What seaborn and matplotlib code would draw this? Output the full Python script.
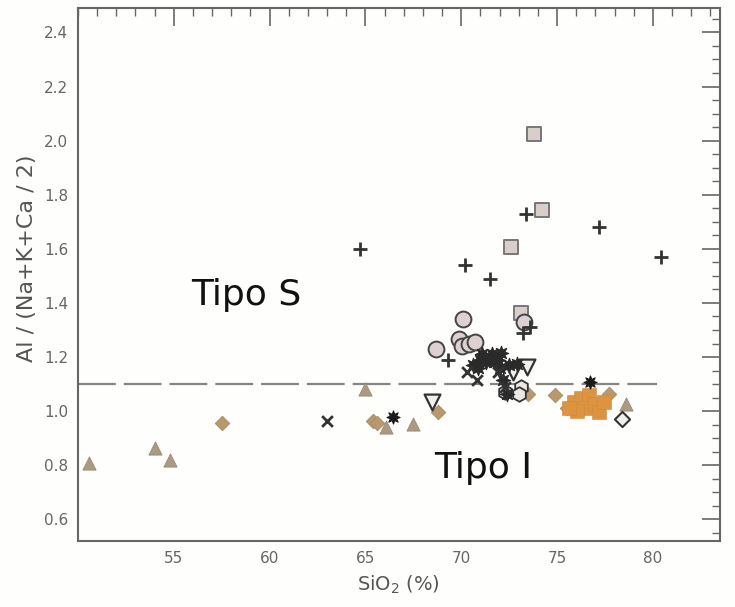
import numpy as np
import pandas as pd
import seaborn as sns
import matplotlib.pyplot as plt
from matplotlib.ticker import MultipleLocator

OUT_PATH = 'out.png'

plus_x = [64.7, 70.2, 71.5, 73.4, 77.2, 80.4, 69.3, 73.2, 73.6]
plus_y = [1.60, 1.54, 1.49, 1.73, 1.68, 1.57, 1.19, 1.29, 1.31]

cross_x = [63.0, 70.3, 70.8, 71.9, 72.3]
cross_y = [0.965, 1.145, 1.115, 1.145, 1.09]

aster_x = [70.6, 70.9, 71.1, 71.3, 71.5, 71.6, 71.7, 72.1, 72.2, 72.5, 72.9, 72.4, 71.9,
           71.0, 72.0]
aster_y = [1.17, 1.16, 1.21, 1.18, 1.20, 1.21, 1.18, 1.215, 1.115, 1.17, 1.175, 1.065, 1.19,
           1.19, 1.16]

circle_x = [70.1, 68.7, 69.9, 70.05, 70.4, 70.7, 73.3]
circle_y = [1.34, 1.23, 1.265, 1.24, 1.25, 1.255, 1.33]

square_x = [73.8, 74.2, 72.6, 73.1]
square_y = [2.025, 1.745, 1.607, 1.364]

tri_down_x = [73.45, 72.7, 68.5]
tri_down_y = [1.165, 1.145, 1.035]

hex_x = [72.3, 73.1, 73.0]
hex_y = [1.07, 1.09, 1.065]

tan_diamond_x = [57.5, 65.4, 65.6, 68.8, 73.5, 74.9, 75.5, 77.7]
tan_diamond_y = [0.955, 0.965, 0.958, 0.997, 1.065, 1.06, 1.01, 1.065]

tan_tri_x = [50.6, 54.0, 54.8, 65.0, 66.1, 67.5, 78.6]
tan_tri_y = [0.81, 0.865, 0.82, 1.083, 0.94, 0.952, 1.027]

orange_x = [75.9, 76.25, 76.65, 76.45, 77.0, 77.2, 76.05, 75.6, 77.45]
orange_y = [1.033, 1.05, 1.06, 1.01, 1.025, 0.997, 1.0, 1.01, 1.033]

star_x = [66.45, 76.7]
star_y = [0.977, 1.108]

white_diamond_x = [78.4]
white_diamond_y = [0.972]

boundary_x = [50.0, 80.2]
boundary_y = [1.1, 1.1]

GROUPS = [
    # nombre, xs, ys, marker, color, edge, size, lw
    ('tan_tri', tan_tri_x, tan_tri_y, '^', '#a99a84', '#9a8a73', 90, 0.6),
    ('tan_diamond', tan_diamond_x, tan_diamond_y, 'D', '#b8996f', '#a88a62', 55, 0.6),
    ('orange', orange_x, orange_y, 's', '#dc9440', '#d08838', 110, 0.4),
    ('square', square_x, square_y, 's', '#d9cfca', '#777777', 115, 1.4),
    ('circle', circle_x, circle_y, 'o', '#ddd0d0', '#444444', 130, 1.4),
    ('hex', hex_x, hex_y, 'h', '#ece6e4', '#333333', 110, 1.3),
    ('tri_down', tri_down_x, tri_down_y, 'v', '#f2eeee', '#333333', 130, 1.6),
    ('white_diamond', white_diamond_x, white_diamond_y, 'D', '#f2eeee', '#333333', 60, 1.5),
    ('aster', aster_x, aster_y, (8, 1, 0), '#2a2a2a', '#2a2a2a', 110, 0.8),
    ('cross', cross_x, cross_y, 'x', '#333333', '#333333', 60, 2.0),
    ('plus', plus_x, plus_y, '+', '#333333', '#333333', 90, 2.0),
    ('star', star_x, star_y, (8, 1, 0), '#1a1a1a', '#1a1a1a', 90, 0.8),
]


def main():
    sns.set_style('white')
    plt.rcParams['font.family'] = ['DejaVu Sans']

    fig = plt.figure(figsize=(7.35, 6.07), dpi=100)
    ax = fig.add_axes([0.106, 0.1087, 0.8735, 0.878])

    # linea limite tipo S / tipo I
    ax.plot(boundary_x, boundary_y, color='#858585', lw=1.6,
            dashes=(17, 3.6), zorder=1)

    for name, xs, ys, mk, col, edge, size, lw in GROUPS:
        df = pd.DataFrame({'sio2': xs, 'acnk': ys})
        if mk in ('+', 'x'):
            sns.scatterplot(data=df, x='sio2', y='acnk', marker=mk, color=col,
                            s=size, linewidth=lw, ax=ax, zorder=3)
        else:
            sns.scatterplot(data=df, x='sio2', y='acnk', marker=mk, color=col,
                            edgecolor=edge, s=size, linewidth=lw, ax=ax, zorder=3)

    ax.text(55.9, 1.43, 'Tipo S', fontsize=26, color='#111111', va='center')
    ax.text(68.6, 0.79, 'Tipo I', fontsize=26, color='#111111', va='center')

    ax.set_xlim(50, 83.5)
    ax.set_ylim(0.52, 2.49)
    ax.xaxis.set_major_locator(MultipleLocator(5))
    ax.xaxis.set_minor_locator(MultipleLocator(1))
    ax.yaxis.set_major_locator(MultipleLocator(0.2))
    ax.yaxis.set_minor_locator(MultipleLocator(0.05))
    ax.set_xticks([55, 60, 65, 70, 75, 80])
    ax.set_yticks(np.round(np.arange(0.6, 2.41, 0.2), 1))
    ax.yaxis.set_major_formatter(plt.FormatStrFormatter('%.1f'))

    ax.tick_params(which='both', direction='in', top=True, right=True,
                   color='#666666', labelcolor='#666666', labelsize=11)
    ax.tick_params(which='major', length=13, width=1.2, pad=7)
    ax.tick_params(which='minor', length=6, width=1.0)
    for sp in ax.spines.values():
        sp.set_color('#666666')
        sp.set_linewidth(1.5)

    ax.set_xlabel('SiO$_2$ (%)', fontsize=14, color='#555555')
    ax.set_ylabel('Al / (Na+K+Ca / 2)', fontsize=16, color='#555555')
    ax.xaxis.set_label_coords(0.5, -0.062)
    ax.yaxis.set_label_coords(-0.064, 0.53)

    fig.patch.set_facecolor('#fefefc')
    ax.set_facecolor('#fefefc')
    fig.savefig(OUT_PATH, dpi=100, facecolor=fig.get_facecolor())


if __name__ == '__main__':
    main()
